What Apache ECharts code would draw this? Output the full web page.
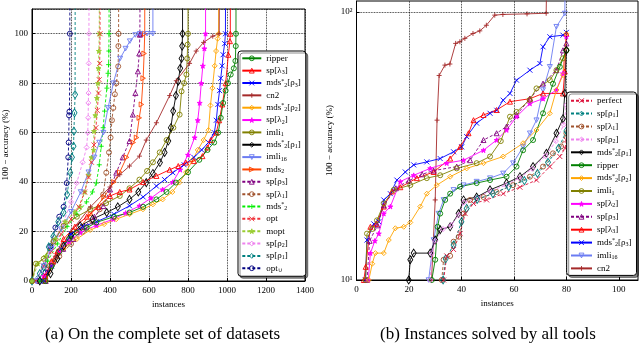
<!DOCTYPE html>
<html>
<head>
<meta charset="utf-8">
<script src="https://cdn.jsdelivr.net/npm/echarts@6/dist/echarts.min.js"></script>
<style>
  html, body { margin: 0; padding: 0; background: #fff; }
  #chart { width: 640px; height: 343px; }
</style>
</head>
<body>
<div id="chart"></div>
<script>
// ---- (a) complete set of datasets : [instances, 100 - accuracy]
var aRipper = [[68,0],[100,6],[140,12],[190,17],[229,19.6],[280,21.5],[330,23.7],[420,26],[500,27.7],[570,30],[638,33],[690,36],[738,39.8],[800,44],[858,49],[900,53],[934,56],[955,60],[968,66],[980,72],[993,77],[1005,80],[1019,83.5],[1035,86],[1043,89],[1045,95],[1046,100],[1047,200]];
var aSpLam3 = [[68,2],[100,8],[130,12],[162,17],[220,22],[281,26],[340,30],[400,34.4],[450,36],[500,37],[570,40],[638,42.5],[706,45],[750,46.5],[789,47.9],[830,48.5],[874,50.5],[900,54],[917,57],[945,60],[960,65],[976,71.4],[993,80],[1007,91.5],[1015,97],[1017,100],[1019,200]];
var aMdsRho3 = [[60,0],[100,6],[150,13],[200,19],[260,22],[331,24],[420,27],[500,30.4],[570,34],[638,38.4],[680,41],[722,43.8],[780,47],[830,50],[870,53],[905,56],[935,60],[945,65],[953,71.4],[962,77],[968,82],[975,87],[980,91.5],[988,96],[992,100],[995,200]];
var aCn2 = [[60,0],[120,10],[200,20],[300,30],[400,38],[450,43],[500,46.5],[551,50.5],[586,57],[638,64],[706,75],[740,81],[808,88],[842,93],[880,96.5],[927,99],[960,100],[965,200]];
var aMdsRho2 = [[70,0],[110,8],[160,13],[230,17],[298,20.6],[370,23],[432,25],[500,27],[569,29],[620,31],[670,33],[720,36],[756,39.8],[790,44],[824,49],[850,53],[880,57],[905,61],[915,71],[925,78],[937,87],[944,93],[952,98],[957,100],[958,200]];
var aSpLam2 = [[60,2],[100,7],[140,12],[190,16],[247,19.6],[330,22.5],[417,25],[480,27.5],[551,30.4],[610,33.5],[670,37],[722,40],[760,45],[800,51],[834,58],[850,65],[860,72],[868,80],[876,87],[884,94],[890,100],[892,200]];
var aImli1 = [[0,0],[20,7],[60,9],[110,16],[162,22.3],[230,26],[298,29],[380,31.5],[450,34.4],[500,37.5],[551,41],[590,44.5],[620,48],[655,52],[690,57],[725,62],[757,67.3],[767,76.7],[780,80],[792,83.5],[796,90],[798,95.6],[800,100],[800,200]];
var aMdsRho1 = [[40,0],[95,3],[130,9],[162,14.2],[200,18.5],[247,22.3],[310,25],[383,27.7],[440,30],[500,33],[545,36],[586,39.8],[620,43.5],[656,47.9],[680,52],[699,56.6],[712,62],[724,68.7],[738,75],[750,80.8],[760,86],[767,90],[770,95],[772,100],[772,200]];
var aImli16 = [[20,0],[60,6],[100,13],[150,21],[200,28],[250,36],[290,44],[320,50],[345,56],[366,60],[390,70],[417,80],[452,90],[480,94],[502,97],[530,99.5],[553,100],[590,100],[620,100],[620,200]];
var aMds2 = [[70,0],[110,7],[160,13],[230,20],[300,27],[370,34],[420,40],[450,44],[485,50],[519,56],[536,58],[550,66],[561,71.4],[570,82],[575,92],[578,100],[580,200]];
var aSpRho3 = [[70,0],[110,8],[160,13],[213,17],[270,22],[320,26],[366,30.3],[400,37],[432,43.8],[465,50],[500,56.6],[517,67.3],[530,76],[543,84.8],[550,92],[553,99.6],[556,100],[560,200]];
var aSpLam1 = [[70,0],[90,6],[140,10],[200,15],[260,20],[310,24],[347,29],[365,35],[381,43.8],[395,52],[403,58],[410,65],[417,70],[425,75.5],[433,80],[442,86.8],[443,95],[444,100],[447,200]];
var aMdsStar = [[40,0],[80,8],[130,15],[180,22],[230,27],[280,32],[310,36],[330,39.6],[345,47],[355,54.5],[365,62],[372,68.7],[384,78],[390,84],[393,87.5],[394,93],[395,100],[397,200]];
var aOpt = [[20,0],[60,6],[100,12],[150,19],[200,25],[240,30],[270,36],[290,42],[305,48],[318,55],[328,62],[335,69],[341,76],[345,81.4],[347,88],[349,100],[349,200]];
var aMopt = [[0,0],[30,7],[70,10],[120,17],[170,24],[220,28],[246,30],[270,36],[290,43],[305,50],[316,53],[318,60.6],[325,67],[333,74],[338,80],[341,86],[343,93],[345,100],[346,200]];
var aSpRho2 = [[20,0],[70,8],[110,16],[160,23.4],[200,32],[229,39.6],[260,48],[280,54],[286,60],[288,66],[289,72],[290,76],[291,88],[292,100],[294,200]];
var aSpRho1 = [[0,0],[40,3],[60,5.7],[86,13.8],[109,18],[135,24],[162,27.7],[180,35],[196,43.8],[205,50],[213,54.5],[215,60.6],[218,68],[221,75.4],[222,200]];
var aOptU = [[0,0],[30,0],[58,0],[69,3.5],[94,14],[120,21.6],[140,26],[162,30],[178,39.6],[186,50],[188,56],[190,67],[192,68.5],[194,100],[195,200]];

// ---- (b) instances solved by all tools (log scale)
var bPerfect = [[33.2,10],[34.4,12.3],[37,13],[39.5,14.9],[41.4,17.7],[44.6,19.3],[49.6,19.9],[55.9,21],[62.3,22.2],[68.6,23.6],[73.7,26.5],[77.5,28.9],[79.5,31],[80,33.3]];
var bSpRho1 = [[33,10],[34,12],[37,13.5],[40,16.5],[42,18.5],[46,20],[52,21],[58,22.3],[64,23.5],[69,25],[73,27.5],[77,31],[80,36]];
var bSpLam1 = [[32.5,10],[33.2,11.9],[35.7,12.3],[37,13.9],[39,14.5],[40.8,17.7],[43.3,19.9],[48.4,20.4],[53.4,21.3],[59.7,22.6],[66.1,24.3],[71.1,26.5],[74.9,29.7],[78,31.5],[80,35.3]];
var bSpRho2 = [[28.1,10],[28.7,12.6],[30,14],[33,15.5],[36,16],[39,17.5],[41,19.5],[46,20.3],[51,21.5],[57,22.6],[62,24],[67,26],[72,29],[76,33],[79,38],[80,45]];
var bMdsRho1 = [[19.9,10],[20.5,11.9],[21.8,12.6],[28.1,12.6],[30,14.1],[31.9,15.4],[35.7,15.8],[38.9,17.7],[40.8,19.9],[45.8,20.4],[50.9,21.7],[57.2,23],[62.3,24.3],[67.3,26.5],[72.4,29.7],[76.2,35.3],[78.7,40],[79.4,49.7],[80,72]];
var bRipper = [[28.7,10],[30,11.9],[30.9,15.8],[31.9,17.7],[33.8,19.9],[35.7,21],[39.5,22.3],[45.8,23],[50.9,23.6],[57.2,24.3],[61,26.5],[63.5,30.5],[67.3,33.3],[71.1,41.9],[74.9,54],[77.5,62.5],[80,72]];
var bMdsRho2 = [[4.7,10],[6,11.5],[7.2,12.6],[10.4,12.6],[12.3,14.1],[14.8,15.6],[18,15.8],[20.5,16.4],[24.3,18.8],[26.8,21],[30.6,22.6],[35.7,24.3],[42,26.1],[48.4,27.3],[55.9,28.9],[63.5,32.4],[68.6,36.3],[73.7,41.9],[76.2,51.2],[78.7,58.2],[80,83]];
var bImli1 = [[3.5,10],[4,14.9],[6,15.5],[7.8,16.7],[10.4,19.3],[14.2,21.7],[20.5,22.6],[26.8,24],[31.9,24.6],[38.2,26.1],[45.8,27.3],[50.9,28.9],[55,33],[58.5,40.7],[61,42.4],[66,47],[68.6,51.9],[73.7,55.7],[76.2,60.7],[78.7,67.2],[80,72]];
var bSpLam2 = [[4.5,10],[5.3,12.6],[7,14],[8.5,14.9],[10.4,17.7],[12.9,18.8],[16.7,23.3],[21.8,24.6],[28.1,26.1],[34.4,27.3],[40.8,28],[48.4,30.5],[53.4,33.3],[57.2,36.3],[61,40.7],[66.1,45.6],[71.1,47.5],[76.2,51.2],[78.7,59],[80,80.9]];
var bSpRho3 = [[4,10],[5,14],[8,16],[10.4,19],[15,22],[20,23.5],[25,24.8],[29.4,25.6],[38.2,26.5],[43.3,28],[48.4,33.3],[53.4,35.3],[57.2,37.4],[61,41.3],[66.1,47.5],[71.1,54.1],[76.2,60.7],[78.7,72],[80,76.4]];
var bSpLam3 = [[2.8,10],[3.5,11.2],[5.3,15.8],[7.5,16.2],[10.4,18.8],[13.5,21.4],[16.7,22.2],[23,24],[29.4,25.3],[35.7,28.4],[39.5,31.4],[42.7,35.3],[44.6,39.5],[48.4,41.3],[53.4,43.1],[58.5,46.3],[66.1,47.5],[71.1,49.7],[78.7,49.7],[79.4,60],[80,83]];
var bMdsRho3 = [[3.4,10],[4,14.1],[6.6,16.2],[8.5,16.5],[10.4,19.9],[12.9,21],[15.4,23.6],[18.6,25.3],[21.8,26.9],[26.8,27.6],[31.9,28.4],[37,30.1],[40.1,31.4],[42,34.3],[45.8,38.5],[50.9,41.9],[53.5,43],[55.9,46.9],[58.5,49.7],[61,55.7],[66.1,60.7],[69.9,64.3],[71.1,74.2],[73.7,80.9],[78.7,82],[80,84]];
var bImli16 = [[27.5,10],[29.4,14.1],[31.3,17.7],[33.2,19.9],[37,21.7],[40.8,22.6],[45.8,23.3],[50.9,24],[55.9,25],[59.7,27.3],[63.5,31.4],[66.1,35.3],[68.6,39.5],[71.1,51.2],[73.7,62.5],[76.2,88.2],[79.4,98.8],[80,300]];
var bCn2 = [[28.6,10],[30,19.9],[30.7,39.5],[31.5,58],[33.7,63.4],[35.6,64],[37.8,76.4],[39.4,77.5],[41.3,79.8],[44.4,83.2],[47,85.1],[49.5,89.3],[52.7,97.4],[55.8,98],[65,98.5],[72.3,99],[73,300]];

// tick labels / grid positions
var aXTicks = [0, 200, 400, 600, 800, 1000, 1200, 1400];
var bGridX = [20, 40, 60, 80];
var bGridY = [100];

var SERIF = "Liberation Serif";
var X = "path://M0,0L10,10M10,0L0,10";
var PLUS = "path://M5,0L5,10M0,5L10,5";
var STAR = "path://M50,0L61,35L98,35L68,57L79,91L50,70L21,91L32,57L2,35L39,35Z";
var TRI_DOWN = "path://M0,0L10,0L5,9Z";
var TRI_RIGHT = "path://M0,0L9,5L0,10Z";

// marker / line style of every tool
var styles = {
  "ripper":    { c: "#008000", sym: "circle" },
  "sp[λ3]":    { c: "#ff0000", sym: "triangle" },
  "mds*2[ρ3]": { c: "#0000ff", sym: X },
  "cn2":       { c: "#a52a2a", sym: PLUS },
  "mds*2[ρ2]": { c: "#ffa500", sym: "diamond" },
  "sp[λ2]":    { c: "#ff00ff", sym: STAR, fill: true },
  "imli1":     { c: "#808000", sym: "circle" },
  "mds*2[ρ1]": { c: "#000000", sym: "diamond", size: [5, 8] },
  "imli16":    { c: "#6b7cf2", sym: TRI_DOWN },
  "mds2":      { c: "#ff4500", sym: TRI_RIGHT },
  "sp[ρ3]":    { c: "#800080", sym: "triangle", dash: true },
  "sp[λ1]":    { c: "#a0522d", sym: "circle", dash: true },
  "mds*2":     { c: "#00ee00", sym: PLUS, dash: true },
  "opt":       { c: "#f03038", sym: X, dash: true },
  "mopt":      { c: "#9acd32", sym: STAR, fill: true, dash: true },
  "sp[ρ2]":    { c: "#ee82ee", sym: "diamond", dash: true },
  "sp[ρ1]":    { c: "#008080", sym: "diamond", size: [5, 8], dash: true },
  "opt∪":      { c: "#000080", sym: "circle", dash: true },
  "perfect":   { c: "#dc143c", sym: X, dash: true }
};

// legend labels with sub/superscripts
var labels = {
  "sp[λ3]": "sp[λ{b|3}]", "sp[λ2]": "sp[λ{b|2}]", "sp[λ1]": "sp[λ{b|1}]",
  "sp[ρ3]": "sp[ρ{b|3}]", "sp[ρ2]": "sp[ρ{b|2}]", "sp[ρ1]": "sp[ρ{b|1}]",
  "mds*2[ρ3]": "mds{p|*}{b|2}[ρ{b|3}]", "mds*2[ρ2]": "mds{p|*}{b|2}[ρ{b|2}]",
  "mds*2[ρ1]": "mds{p|*}{b|2}[ρ{b|1}]", "mds*2": "mds{p|*}{b|2}",
  "imli1": "imli{b|1}", "imli16": "imli{b|16}", "mds2": "mds{b|2}", "opt∪": "opt{b|∪}"
};

function markerStyle(s) {
  return {
    color: s.fill ? s.c : "rgba(255,255,255,0)",
    borderColor: s.c,
    borderWidth: 0.9
  };
}

function mkSeries(name, data, idx) {
  var s = styles[name];
  return {
    name: name,
    type: "line",
    xAxisIndex: idx,
    yAxisIndex: idx,
    data: data,
    symbol: s.sym,
    symbolSize: s.size || 5,
    symbolKeepAspect: true,
    showAllSymbol: true,
    clip: true,
    lineStyle: { color: s.c, width: 0.9, type: s.dash ? [3, 2] : "solid" },
    itemStyle: markerStyle(s),
    emphasis: { disabled: true }
  };
}

var aNames = ["ripper", "sp[λ3]", "mds*2[ρ3]", "cn2", "mds*2[ρ2]", "sp[λ2]", "imli1", "mds*2[ρ1]", "imli16",
  "mds2", "sp[ρ3]", "sp[λ1]", "mds*2", "opt", "mopt", "sp[ρ2]", "sp[ρ1]", "opt∪"];
var aData = [aRipper, aSpLam3, aMdsRho3, aCn2, aMdsRho2, aSpLam2, aImli1, aMdsRho1, aImli16,
  aMds2, aSpRho3, aSpLam1, aMdsStar, aOpt, aMopt, aSpRho2, aSpRho1, aOptU];
var bNames = ["perfect", "sp[ρ1]", "sp[λ1]", "sp[ρ2]", "mds*2[ρ1]", "ripper", "mds*2[ρ2]", "imli1",
  "sp[λ2]", "sp[ρ3]", "sp[λ3]", "mds*2[ρ3]", "imli16", "cn2"];
var bData = [bPerfect, bSpRho1, bSpLam1, bSpRho2, bMdsRho1, bRipper, bMdsRho2, bImli1,
  bSpLam2, bSpRho3, bSpLam3, bMdsRho3, bImli16, bCn2];

var series = [];
// dotted grid of panel (b), drawn as mark lines behind the curves
series.push({
  type: "line", xAxisIndex: 1, yAxisIndex: 1, data: [], z: 1, silent: true,
  markLine: {
    silent: true, symbol: "none", animation: false,
    label: { show: false },
    lineStyle: { type: "dotted", color: "#000", width: 0.8 },
    data: bGridX.map(function (v) { return { xAxis: v }; })
      .concat(bGridY.map(function (v) { return { yAxis: v }; }))
  }
});
for (var i = aNames.length - 1; i >= 0; i--) series.push(mkSeries(aNames[i], aData[i], 0));
for (var j = bNames.length - 1; j >= 0; j--) series.push(mkSeries(bNames[j], bData[j], 1));

// legend entries carry their own (open) marker style
function legendData(names) {
  return names.map(function (n) {
    return { name: n, itemStyle: markerStyle(styles[n]) };
  });
}

var legendText = {
  fontFamily: SERIF, fontSize: 9, lineHeight: 10, color: "#000",
  rich: {
    b: { fontFamily: SERIF, fontSize: 6, lineHeight: 5, verticalAlign: "bottom" },
    p: { fontFamily: SERIF, fontSize: 6, lineHeight: 5, verticalAlign: "top" }
  }
};
function legendFmt(name) { return labels[name] || name; }
var legendBox = {
  orient: "vertical", backgroundColor: "#fff", borderColor: "#000", borderWidth: 1, borderRadius: 3,
  shadowColor: "rgba(0,0,0,0.45)", shadowOffsetX: 2, shadowOffsetY: 2, shadowBlur: 0,
  itemHeight: 6, textStyle: legendText, formatter: legendFmt, selectedMode: false
};

var axisCommon = {
  axisLine: { show: true, onZero: false, lineStyle: { color: "#000", width: 1 } },
  axisTick: { show: true, inside: true, length: 3, lineStyle: { color: "#000" } },
  axisLabel: { fontFamily: SERIF, fontSize: 9, color: "#000", showMaxLabel: false },
  nameTextStyle: { fontFamily: SERIF, fontSize: 9, color: "#000" }
};
function ax(extra) { return Object.assign({}, JSON.parse(JSON.stringify(axisCommon)), extra); }

var chart = echarts.init(document.getElementById("chart"), null, { renderer: "canvas" });
chart.setOption({
  animation: false,
  backgroundColor: "#fff",
  grid: [
    { left: 32, top: 9, width: 273, height: 272, show: true, borderColor: "#000", borderWidth: 1, backgroundColor: "#fff", containLabel: false, outerBoundsMode: "none" },
    { left: 356.5, top: 1, width: 281.5, height: 279, show: true, borderColor: "#000", borderWidth: 1, backgroundColor: "#fff", containLabel: false, outerBoundsMode: "none" }
  ],
  xAxis: [
    ax({ gridIndex: 0, type: "value", min: 0, max: 1400, interval: 200,
      name: "instances", nameLocation: "middle", nameGap: 16,
      axisLabel: { fontFamily: SERIF, fontSize: 9, color: "#000", margin: 5,
        formatter: function (v) { return aXTicks.indexOf(v) >= 0 ? String(v) : ""; } },
      splitLine: { show: true, lineStyle: { type: "dotted", color: "#000", width: 0.8 } } }),
    ax({ gridIndex: 1, type: "value", min: 0, max: 107.3, interval: 20,
      name: "instances", nameLocation: "middle", nameGap: 16,
      axisLabel: { fontFamily: SERIF, fontSize: 9, color: "#000", margin: 5, showMaxLabel: false },
      splitLine: { show: false } })
  ],
  yAxis: [
    ax({ gridIndex: 0, type: "value", min: 0, max: 110, interval: 20,
      name: "100 − accuracy (%)", nameLocation: "middle", nameGap: 20,
      axisLabel: { fontFamily: SERIF, fontSize: 9, color: "#000", margin: 4, showMaxLabel: false },
      splitLine: { show: true, lineStyle: { type: "dotted", color: "#000", width: 0.8 } } }),
    ax({ gridIndex: 1, type: "log", logBase: 10, min: 10, max: 110,
      name: "100 − accuracy (%)", nameLocation: "middle", nameGap: 22,
      axisLabel: { fontFamily: SERIF, fontSize: 9, color: "#000", margin: 4, showMaxLabel: false,
        formatter: function (v) { return v === 10 ? "10¹" : (v === 100 ? "10²" : ""); } },
      splitLine: { show: false } })
  ],
  legend: [
    Object.assign({}, legendBox, { left: 238, top: 51, itemWidth: 19, itemGap: 2.35,
      padding: [2.3, 5, 3, 3.3], data: legendData(aNames) }),
    Object.assign({}, legendBox, { left: 566.7, top: 92, itemWidth: 21, itemGap: 2.9,
      padding: [3.7, 5, 2, 3.3], data: legendData(bNames) })
  ],
  title: [
    { text: "(a) On the complete set of datasets", left: 157.5, top: 321, textAlign: "center",
      textStyle: { fontFamily: SERIF, fontSize: 17, fontWeight: "normal", color: "#000" } },
    { text: "(b) Instances solved by all tools", left: 483, top: 321, textAlign: "center",
      textStyle: { fontFamily: SERIF, fontSize: 17, fontWeight: "normal", color: "#000" } }
  ],
  series: series
});
</script>
</body>
</html>
